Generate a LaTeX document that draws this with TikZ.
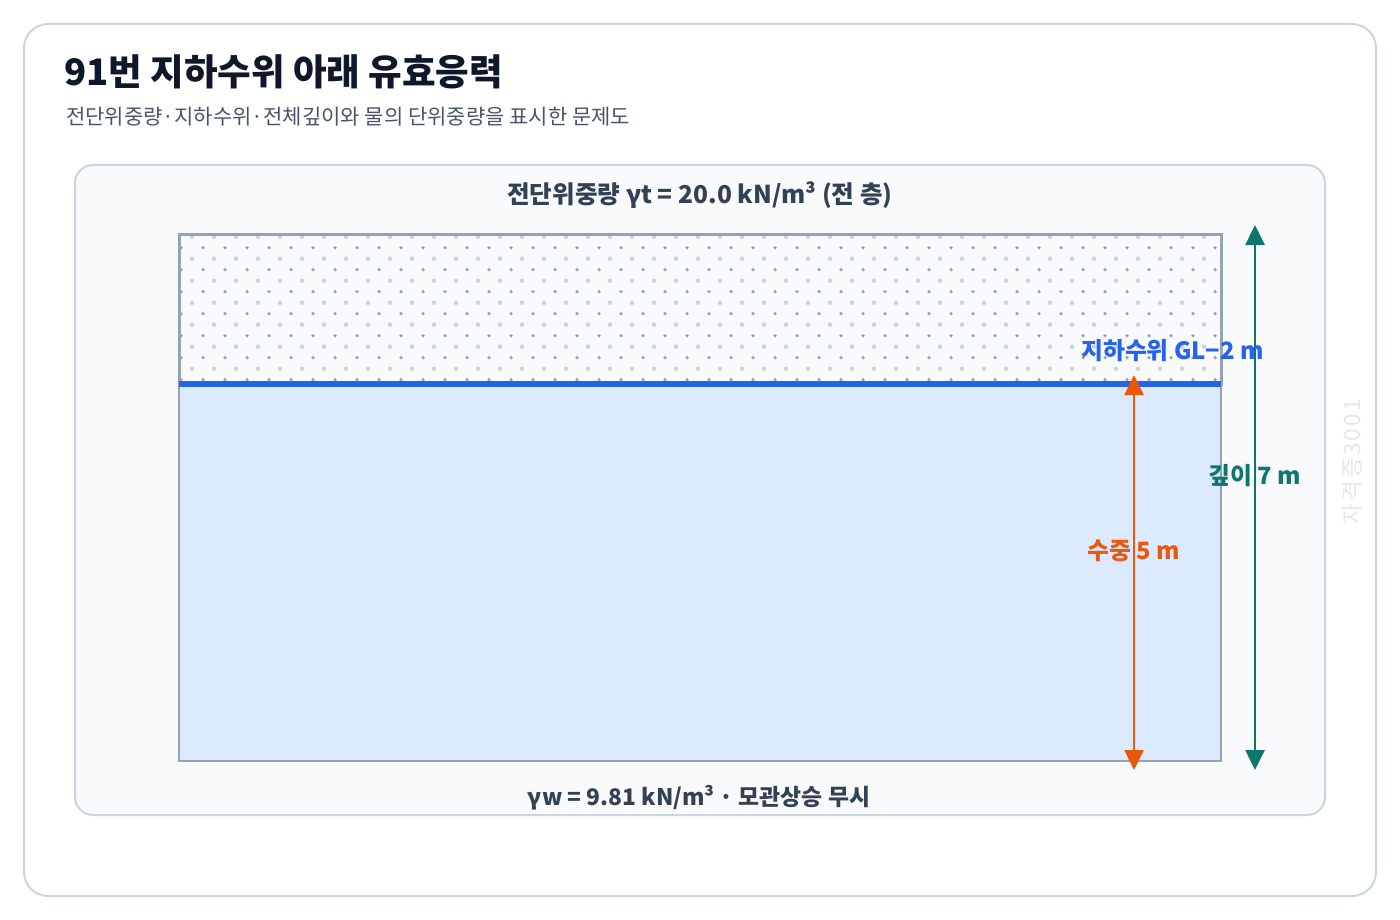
\documentclass[tikz,border=0pt]{standalone}
\usepackage{fontspec}
\setmainfont{Noto Sans CJK KR}
\usetikzlibrary{arrows.meta}
\definecolor{cardline}{HTML}{CBD5E1}
\definecolor{panelfill}{HTML}{F8FAFC}
\definecolor{titlecol}{HTML}{0F172A}
\definecolor{subcol}{HTML}{475569}
\definecolor{labcol}{HTML}{334155}
\definecolor{boxline}{HTML}{94A3B8}
\definecolor{dotdark}{HTML}{94A3B8}
\definecolor{dotlight}{HTML}{CBD5E1}
\definecolor{waterfill}{HTML}{DBEAFE}
\definecolor{waterline}{HTML}{2563EB}
\definecolor{tealcol}{HTML}{0F766E}
\definecolor{orangecol}{HTML}{EA580C}
\definecolor{wmcol}{HTML}{E2E8F0}
\begin{document}
\begin{tikzpicture}[x=1pt,y=-1pt,
  dimarrow/.style={line width=2.6pt,{Triangle[length=20pt,width=19pt]}-{Triangle[length=20pt,width=19pt]}},
  txt/.style={inner sep=0pt,anchor=base},
  dimlab/.style={txt,font=\fontsize{23.8}{28}\selectfont\bfseries}]
\useasboundingbox (0,0) rectangle (1400,920);
\fill[white] (0,0) rectangle (1400,920);
% outer card
\draw[cardline,line width=2pt,rounded corners=24pt] (24,24) rectangle (1376,896);
% title
\node[txt,anchor=base west,text=titlecol,font=\fontsize{36.5}{42}\selectfont\bfseries] (title) at (64,86) {91번 지하수위 아래 유효응력};
\node[txt,anchor=base west,text=subcol,font=\fontsize{21}{25}\selectfont] (subtitle) at (66,125) {전단위중량·지하수위·전체깊이와 물의 단위중량을 표시한 문제도};
% inner panel
\draw[cardline,fill=panelfill,line width=2pt,rounded corners=18pt] (75,165) rectangle (1325,815);
\node[txt,text=labcol,font=\fontsize{24.6}{28}\selectfont\bfseries] (toplab) at (700,204) {전단위중량 γt = 20.0 kN/m³ (전 층)};
\node[txt,text=labcol,font=\fontsize{22.8}{27}\selectfont\bfseries] (botlab) at (699,805) {γw = 9.81 kN/m³ · 모관상승 무시};
% soil box
\fill[panelfill] (179,235) rectangle (1221,384);
\begin{scope}
\clip (179,235) rectangle (1221,384);
\foreach \r in {0,...,7}{
  \foreach \c in {0,...,47}{
    \fill[dotlight] ({192+22*\c},{236.7+22*\r}) circle (2.3pt);
    \fill[dotdark] ({181+22*\c},{247.7+22*\r}) circle (1.8pt);
  }
}
\end{scope}
\fill[waterfill] (179,384) rectangle (1221,761);
\draw[boxline,line width=1.6pt] (179,384) -- (179,761) -- (1221,761) -- (1221,384);
\draw[boxline,line width=3pt] (179,386) -- (179,235) -- (1221,235) -- (1221,386);
\draw[waterline,line width=6pt] (179,384) -- (1221,384);
% dimension arrows
\coordinate (tTop) at (1255,225);
\coordinate (tBot) at (1255,770);
\coordinate (oTop) at (1134,375);
\coordinate (oBot) at (1134,770);
\draw[dimarrow,tealcol] (tTop) -- (tBot);
\draw[dimarrow,orangecol] (oTop) -- (oBot);
\node[dimlab,text=waterline] (gwl) at (1172.5,359) {지하수위 GL−2 m};
\node[dimlab,text=tealcol] (depth) at (1255,484) {깊이 7 m};
\node[dimlab,text=orangecol] (sub) at (1134,559) {수중 5 m};
% watermark
\node[inner sep=0pt,rotate=90,text=wmcol,font=\fontsize{22.5}{26}\selectfont\addfontfeature{LetterSpace=10}] (wm) at (1352,462) {자격증3001};
\end{tikzpicture}
\end{document}
